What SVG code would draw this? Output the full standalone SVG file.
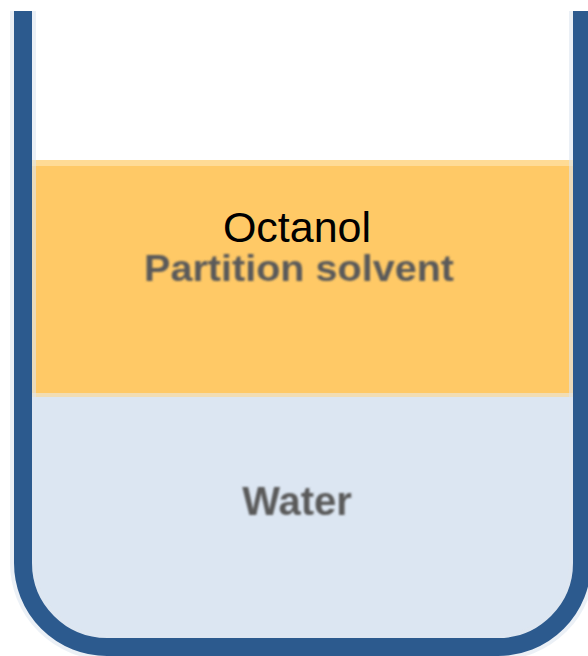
<svg xmlns="http://www.w3.org/2000/svg" width="588" height="656" viewBox="0 0 588 656">
  <style>
    .wall { fill: none; stroke: #2C5A8E; stroke-width: 18; }
    .halo { fill: none; stroke: #DEE6F0; stroke-width: 26; }
    .label { font-family: "Liberation Sans", Arial, sans-serif; text-anchor: middle; }
    .soft { fill: #5A5A5A; font-weight: bold; filter: url(#soften); }
  </style>
  <defs>
    <filter id="soften" x="-10%" y="-30%" width="120%" height="160%">
      <feGaussianBlur stdDeviation="1.3"/>
    </filter>
  </defs>

  <rect x="0" y="0" width="588" height="656" fill="#FFFFFF"/>

  <!-- water layer, following the rounded beaker floor -->
  <g id="water">
    <path d="M32 396 H573 V563 A75 75 0 0 1 498 638 H107 A75 75 0 0 1 32 563 Z" fill="#DCE6F2"/>
    <text class="label soft" x="297" y="515" font-size="40">Water</text>
  </g>

  <!-- octanol layer on top of the water -->
  <g id="octanol">
    <rect x="32" y="160" width="541" height="236" fill="#FFC966"/>
    <rect x="32" y="160" width="541" height="6" fill="#FFDB95"/>
    <rect x="32" y="393" width="541" height="4" fill="#F1DDB4"/>
    <text class="label" x="297" y="242" font-size="43" fill="#000000">Octanol</text>
    <text class="label soft" x="299" y="281" font-size="37" textLength="310" lengthAdjust="spacingAndGlyphs">Partition solvent</text>
  </g>

  <!-- beaker walls -->
  <g id="beaker">
    <path class="halo" d="M23 11 V563 A84 84 0 0 0 107 647 H498 A84 84 0 0 0 582 563 V11" opacity="0.6"/>
    <path class="wall" d="M23 11 V563 A84 84 0 0 0 107 647 H498 A84 84 0 0 0 582 563 V11"/>
  </g>
</svg>
